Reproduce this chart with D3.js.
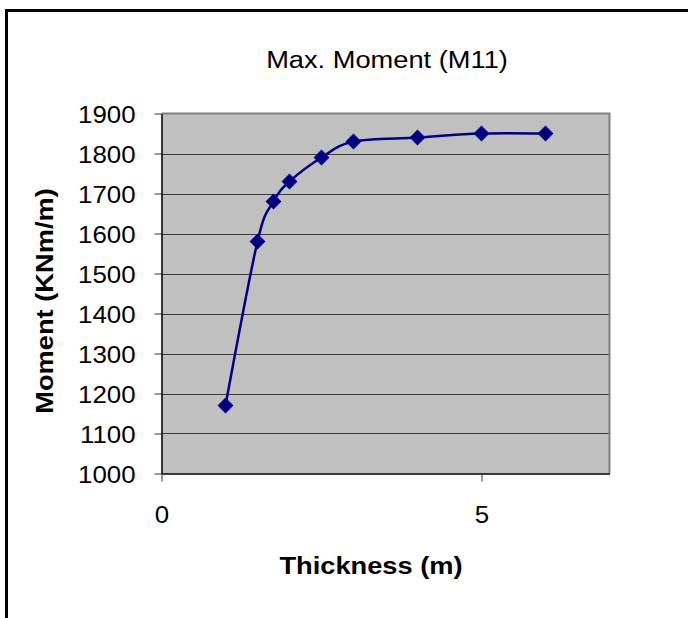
<!DOCTYPE html>
<html>
<head>
<meta charset="utf-8">
<script src="https://cdn.jsdelivr.net/npm/d3@7"></script>
<style>
  html, body { margin: 0; padding: 0; background: #fff; }
  svg { display: block; font-family: Arial, "Liberation Sans", sans-serif; }
</style>
</head>
<body>
<svg id="chart" width="688" height="618"></svg>
<script>
// Maximum moment M11 against slab thickness
const thickness = [1, 1.5, 1.75, 2, 2.5, 3, 4, 5, 6];
const moment = [1170, 1580, 1680, 1730, 1790, 1830, 1840, 1850, 1850];
const xTicks = [0, 5];
const yTicks = [1000, 1100, 1200, 1300, 1400, 1500, 1600, 1700, 1800, 1900];

const chartTitle = "Max. Moment (M11)";
const xTitle = "Thickness (m)";
const yTitle = "Moment (KNm/m)";

const svg = d3.select("#chart");
const plot = { left: 161.5, top: 113.5, right: 609.5, bottom: 473.5 };

const x = d3.scaleLinear().domain([0, 7]).range([plot.left, plot.right]);
const y = d3.scaleLinear().domain([1000, 1900]).range([plot.bottom, plot.top]);

const sx = 1.1;       // stretch of tick lettering along the reading direction
const sTitle = 1.16;  // stretch of title lettering along the reading direction

// Outer chart frame
svg.append("rect")
  .attr("x", 6.5).attr("y", 10.5)
  .attr("width", 800).attr("height", 800)
  .attr("fill", "none").attr("stroke", "#000").attr("stroke-width", 3);

// Plot background
svg.append("rect")
  .attr("x", plot.left).attr("y", plot.top)
  .attr("width", plot.right - plot.left).attr("height", plot.bottom - plot.top)
  .attr("fill", "#c0c0c0");

// Horizontal gridlines
svg.append("g").selectAll("line")
  .data(yTicks.filter(d => d > 1000 && d < 1900))
  .join("line")
  .attr("x1", plot.left).attr("x2", plot.right)
  .attr("y1", d => Math.round(y(d)) + 0.5).attr("y2", d => Math.round(y(d)) + 0.5)
  .attr("stroke", "#3a3a3a").attr("stroke-width", 1);

// Top and right edges of the plot frame
svg.append("path")
  .attr("d", `M${plot.left},${plot.top} H${plot.right} V${plot.bottom}`)
  .attr("fill", "none").attr("stroke", "#808080").attr("stroke-width", 2);

// Y axis
const yAxis = d3.axisLeft(y).tickValues(yTicks).tickSize(7).tickSizeOuter(0).tickFormat(d3.format("d"));
const gy = svg.append("g").attr("transform", `translate(${plot.left},0)`).call(yAxis);
gy.select(".domain").attr("stroke", "#000").attr("stroke-width", 1.5);
gy.selectAll(".tick line").attr("stroke", "#333");
gy.selectAll(".tick text").remove();
gy.selectAll(".tick").append("text")
  .attr("transform", `translate(-26,9) scale(${sx},1)`)
  .attr("text-anchor", "end")
  .attr("fill", "#000")
  .attr("font-size", 23.5)
  .text(d => d);

// X axis
const xAxis = d3.axisBottom(x).tickValues(xTicks).tickSize(8).tickSizeOuter(0);
const gx = svg.append("g").attr("transform", `translate(0,${plot.bottom})`).call(xAxis);
gx.select(".domain").attr("stroke", "#000").attr("stroke-width", 1.5);
gx.selectAll(".tick line").attr("stroke", "#333");
gx.selectAll(".tick text").remove();
gx.selectAll(".tick").append("text")
  .attr("transform", `translate(0,49.5) scale(${sx},1)`)
  .attr("text-anchor", "middle")
  .attr("fill", "#000")
  .attr("font-size", 23.5)
  .text(d => d);

// Smoothed series line
const pts = thickness.map((t, i) => [t, moment[i]]);
const line = d3.line()
  .x(d => x(d[0])).y(d => y(d[1]))
  .curve(d3.curveCatmullRom.alpha(0));
svg.append("path")
  .datum(pts)
  .attr("d", line)
  .attr("fill", "none")
  .attr("stroke", "#000080")
  .attr("stroke-width", 2.5);

// Diamond markers
const diamond = d3.symbol().type(d3.symbolSquare).size(105);
svg.append("g").selectAll("path")
  .data(pts)
  .join("path")
  .attr("d", diamond)
  .attr("transform", d => `translate(${x(d[0])},${y(d[1])}) rotate(45)`)
  .attr("fill", "#000080")
  .attr("stroke", "#000080")
  .attr("stroke-width", 1);

// Titles
svg.append("text")
  .attr("transform", `translate(387,67.5) scale(${sTitle},1)`)
  .attr("text-anchor", "middle")
  .attr("font-size", 23.5)
  .text(chartTitle);

svg.append("text")
  .attr("transform", `translate(371,574) scale(${sTitle},1)`)
  .attr("text-anchor", "middle")
  .attr("font-size", 23.5)
  .attr("font-weight", "bold")
  .text(xTitle);

svg.append("text")
  .attr("transform", `translate(53,301) rotate(-90) scale(${sTitle},1)`)
  .attr("text-anchor", "middle")
  .attr("font-size", 23.5)
  .attr("font-weight", "bold")
  .text(yTitle);
</script>
</body>
</html>
